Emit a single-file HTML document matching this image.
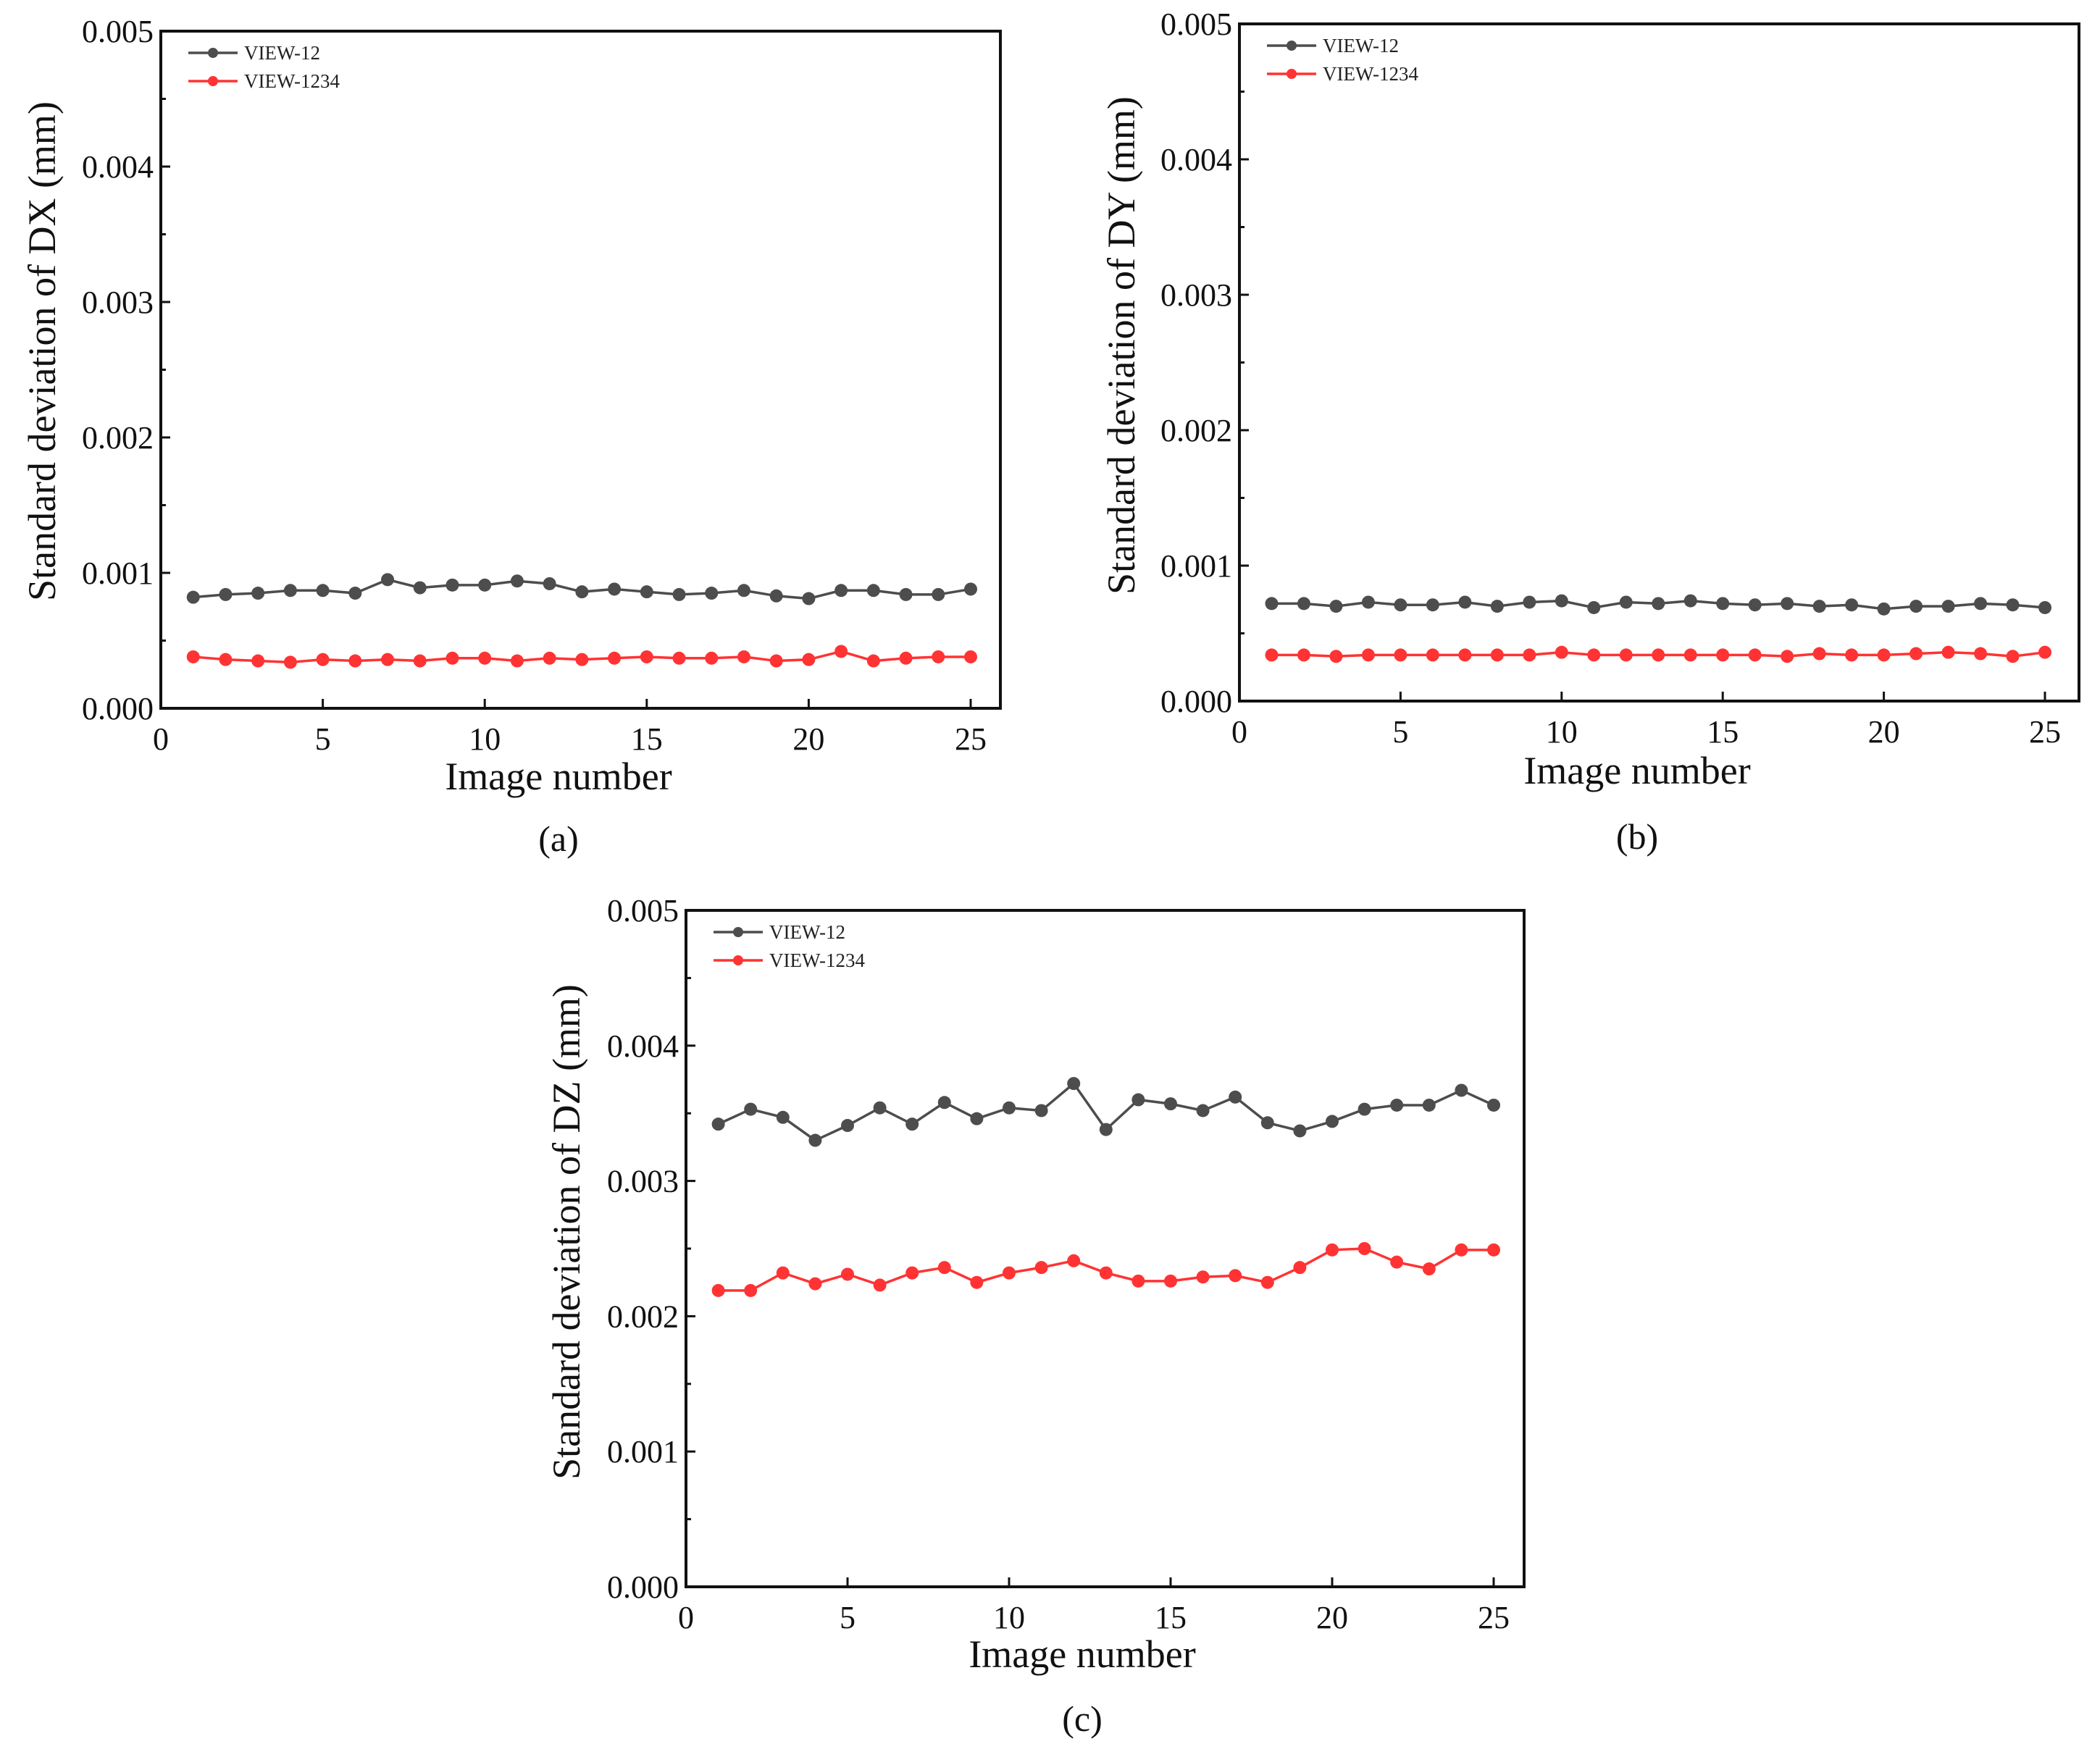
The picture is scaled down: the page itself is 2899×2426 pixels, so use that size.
<!DOCTYPE html>
<html><head><meta charset="utf-8"><style>
html,body{margin:0;padding:0;background:#fff;}
svg{display:block;font-family:"Liberation Serif",serif;}
</style></head><body>
<svg id="fig" width="2899" height="2426" viewBox="0 0 2899 2426" xmlns="http://www.w3.org/2000/svg"></svg>
<script>
const xTicks=[0,5,10,15,20,25];
const yTicks=[0,0.001,0.002,0.003,0.004,0.005];
const yTickLabels=["0.000","0.001","0.002","0.003","0.004","0.005"];
const imageNumbers=[1,2,3,4,5,6,7,8,9,10,11,12,13,14,15,16,17,18,19,20,21,22,23,24,25];
const dxView12=[0.00082,0.00084,0.00085,0.00087,0.00087,0.00085,0.00095,0.00089,0.00091,0.00091,0.00094,0.00092,0.00086,0.00088,0.00086,0.00084,0.00085,0.00087,0.00083,0.00081,0.00087,0.00087,0.00084,0.00084,0.00088];
const dxView1234=[0.00038,0.00036,0.00035,0.00034,0.00036,0.00035,0.00036,0.00035,0.00037,0.00037,0.00035,0.00037,0.00036,0.00037,0.00038,0.00037,0.00037,0.00038,0.00035,0.00036,0.00042,0.00035,0.00037,0.00038,0.00038];
const dyView12=[0.00072,0.00072,0.00070,0.00073,0.00071,0.00071,0.00073,0.00070,0.00073,0.00074,0.00069,0.00073,0.00072,0.00074,0.00072,0.00071,0.00072,0.00070,0.00071,0.00068,0.00070,0.00070,0.00072,0.00071,0.00069];
const dyView1234=[0.00034,0.00034,0.00033,0.00034,0.00034,0.00034,0.00034,0.00034,0.00034,0.00036,0.00034,0.00034,0.00034,0.00034,0.00034,0.00034,0.00033,0.00035,0.00034,0.00034,0.00035,0.00036,0.00035,0.00033,0.00036];
const dzView12=[0.00342,0.00353,0.00347,0.00330,0.00341,0.00354,0.00342,0.00358,0.00346,0.00354,0.00352,0.00372,0.00338,0.00360,0.00357,0.00352,0.00362,0.00343,0.00337,0.00344,0.00353,0.00356,0.00356,0.00367,0.00356];
const dzView1234=[0.00219,0.00219,0.00232,0.00224,0.00231,0.00223,0.00232,0.00236,0.00225,0.00232,0.00236,0.00241,0.00232,0.00226,0.00226,0.00229,0.00230,0.00225,0.00236,0.00249,0.00250,0.00240,0.00235,0.00249,0.00249];
const seriesNames=["VIEW-12","VIEW-1234"];
const seriesColors=["#4d4d4d","#ff3333"];

const svg=document.getElementById('fig');
const NS="http://www.w3.org/2000/svg";
function mk(tag,attrs,parent){const e=document.createElementNS(NS,tag);for(const k in attrs)e.setAttribute(k,attrs[k]);(parent||svg).appendChild(e);return e;}

function panel(id,box,yTitle,s1,s2,xLabelPos,panelLabelPos,yTitlePos,panelLetter){
  const g=mk('g',{});
  
  
  const x0=box.l, x25=box.x25;
  const X=v=>x0+(x25-x0)*v/25;
  const Y=v=>box.b-(box.b-box.t)*v/0.005;
  xTicks.forEach(v=>{
    const t=mk('line',{x1:X(v),x2:X(v),y1:box.b,y2:box.b-13,stroke:'#111','stroke-width':3},g);
    
    
    const lb=mk('text',{x:X(v),y:box.b+57,'font-size':44,'text-anchor':'middle',fill:'#111'},g);
    lb.textContent=v;
    
    
  });
  yTicks.forEach((v,i)=>{
    const t=mk('line',{x1:box.l,x2:box.l+13,y1:Y(v),y2:Y(v),stroke:'#111','stroke-width':3},g);
    
    
    if(i<yTicks.length-1){
      const m=mk('line',{x1:box.l,x2:box.l+7,y1:Y(v+0.0005),y2:Y(v+0.0005),stroke:'#111','stroke-width':3},g);
      
      
    }
    const lb=mk('text',{x:box.l-10,y:Y(v)+15,'font-size':44,'text-anchor':'end',fill:'#111'},g);
    lb.textContent=yTickLabels[i];
    
    
  });
  const fr=mk('rect',{x:box.l,y:box.t,width:box.r-box.l,height:box.b-box.t,fill:'none',stroke:'#111','stroke-width':4},g);
  
  
  [s1,s2].forEach((s,si)=>{
    const pts=imageNumbers.map((n,i)=>X(n)+','+Y(s[i])).join(' ');
    const pl=mk('polyline',{points:pts,fill:'none',stroke:seriesColors[si],'stroke-width':3.5},g);
    
    
    imageNumbers.forEach((n,i)=>{
      const c=mk('circle',{cx:X(n),cy:Y(s[i]),r:9,fill:seriesColors[si]},g);
      
      
    });
    const ly=box.t+30+si*39;
    const ll=mk('line',{x1:box.l+38,x2:box.l+106,y1:ly,y2:ly,stroke:seriesColors[si],'stroke-width':3.5},g);
    
    
    const lc=mk('circle',{cx:box.l+72,cy:ly,r:7,fill:seriesColors[si]},g);
    
    
    const lt=mk('text',{x:box.l+115,y:ly+9,'font-size':27,fill:'#222'},g);
    lt.textContent=seriesNames[si];
    
    
  });
  const xt=mk('text',{x:xLabelPos[0],y:xLabelPos[1],'font-size':54,'text-anchor':'middle',fill:'#111'},g);
  xt.textContent='Image number';
  
  
  const yt=mk('text',{x:0,y:0,'font-size':54,'text-anchor':'middle',fill:'#111',transform:'translate('+yTitlePos[0]+','+yTitlePos[1]+') rotate(-90)'},g);
  yt.textContent=yTitle;
  
  
  const pt=mk('text',{x:panelLabelPos[0],y:panelLabelPos[1],'font-size':50,'text-anchor':'middle',fill:'#111'},g);
  pt.textContent=panelLetter;
  
  
}
panel('a',{l:222,r:1381,t:43,b:978,x25:1340},'Standard deviation of DX (mm)',dxView12,dxView1234,[771,1090],[771,1175],[76,485],'(a)');
panel('b',{l:1711,r:2870,t:33,b:968,x25:2823},'Standard deviation of DY (mm)',dyView12,dyView1234,[2260,1082],[2260,1172],[1566,477],'(b)');
panel('c',{l:947,r:2104,t:1257,b:2191,x25:2062},'Standard deviation of DZ (mm)',dzView12,dzView1234,[1494,2302],[1494,2390],[800,1701],'(c)');
</script>
</body></html>
